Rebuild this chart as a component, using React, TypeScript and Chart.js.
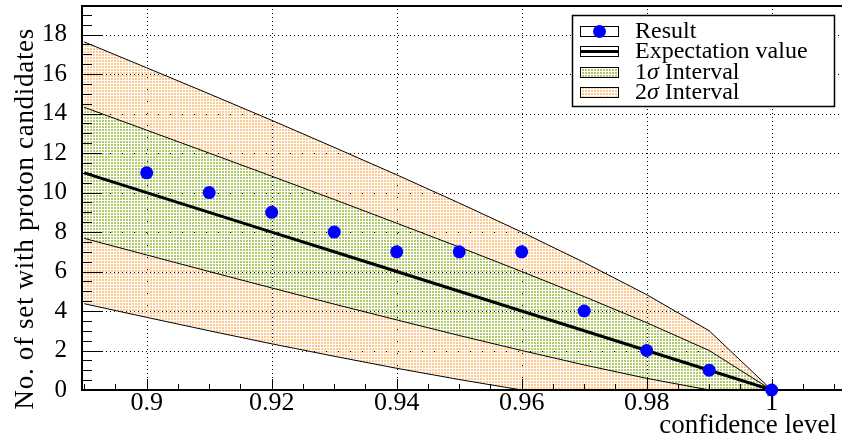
import React, { useEffect, useRef } from "react";
import { Chart, registerables } from "chart.js";

Chart.register(...registerables);

// ---------------- data ----------------
const confidenceLevels = [0.89, 0.9, 0.91, 0.92, 0.93, 0.94, 0.95, 0.96, 0.97, 0.98, 0.99, 1.0];
const expectationValues = [11, 10, 9, 8, 7, 6, 5, 4, 3, 2, 1, 0];
const sigma1Upper = [14.32, 13.16, 12.0, 10.83, 9.65, 8.45, 7.24, 6.0, 4.73, 3.41, 2.0, 0];
const sigma1Lower = [7.68, 6.84, 6.0, 5.17, 4.35, 3.55, 2.76, 2.0, 1.27, 0.59, 0, 0];
const sigma2Upper = [17.63, 16.32, 15.0, 13.66, 12.29, 10.9, 9.47, 8.0, 6.46, 4.83, 3.0, 0];
const sigma2Lower = [4.37, 3.68, 3.0, 2.34, 1.71, 1.1, 0.53, 0, 0, 0, 0, 0];

const resultLevels = [0.9, 0.91, 0.92, 0.93, 0.94, 0.95, 0.96, 0.97, 0.98, 0.99, 1.0];
const resultValues = [11, 10, 9, 8, 7, 7, 7, 4, 2, 1, 0];

const xTickValues = [0.9, 0.92, 0.94, 0.96, 0.98, 1.0];
const xTickLabels = ["0.9", "0.92", "0.94", "0.96", "0.98", "1"];
const yTickValues = [0, 2, 4, 6, 8, 10, 12, 14, 16, 18];
const yTickLabels = ["0", "2", "4", "6", "8", "10", "12", "14", "16", "18"];

const legendLabels = ["Result", "Expectation value", "1σ Interval", "2σ Interval"];
const xTitle = "confidence level";
const yTitle = "No. of set with proton candidates";

// ---------------- styling ----------------
const FONT = "'Liberation Serif', 'DejaVu Serif', serif";
const X_MIN = 0.88965;
const X_MAX = 1.01125;
const Y_MIN = 0;
const Y_MAX = 19.45;

function makePattern(color: string): CanvasPattern | string {
  const c = document.createElement("canvas");
  c.width = 3;
  c.height = 3;
  const g = c.getContext("2d");
  if (!g) return color;
  g.fillStyle = color;
  g.fillRect(0, 0, 2, 2);
  const p = g.createPattern(c, "repeat");
  return p || color;
}

const pts = (xs: number[], ys: number[]) => xs.map((x, i) => ({ x, y: ys[i] }));

const zeroPadding = (scale: any) => {
  scale.paddingTop = 0;
  scale.paddingBottom = 0;
  scale.paddingLeft = 0;
  scale.paddingRight = 0;
};

export default function App() {
  const ref = useRef<HTMLCanvasElement | null>(null);

  useEffect(() => {
    document.body.style.margin = "0";
    const canvas = ref.current;
    if (!canvas) return;

    const orange = makePattern("rgb(255,200,140)");
    const green = makePattern("rgb(178,202,108)");

    const drawSegmentsText = (
      ctx: CanvasRenderingContext2D,
      text: string,
      x: number,
      y: number,
      size: number
    ) => {
      const parts = text.split("σ");
      let cx = x;
      parts.forEach((part, i) => {
        ctx.font = `${size}px ${FONT}`;
        ctx.fillText(part, cx, y);
        cx += ctx.measureText(part).width;
        if (i < parts.length - 1) {
          ctx.font = `italic ${size}px ${FONT}`;
          ctx.fillText("σ", cx, y);
          cx += ctx.measureText("σ").width;
        }
      });
    };

    const rootPlugin = {
      id: "rootStyle",
      beforeDraw(chart: any) {
        const ctx = chart.ctx;
        ctx.save();
        ctx.fillStyle = "#ffffff";
        ctx.fillRect(0, 0, chart.width, chart.height);
        ctx.restore();
      },
      beforeDatasetsDraw(chart: any) {
        const { ctx, chartArea: a, scales } = chart;
        const xs = scales.x;
        const ys = scales.y;
        ctx.save();
        ctx.strokeStyle = "#000";
        ctx.lineWidth = 1;
        ctx.setLineDash([1, 3]);
        xTickValues.forEach((v) => {
          const p = Math.round(xs.getPixelForValue(v)) + 0.5;
          ctx.beginPath();
          ctx.moveTo(p, a.bottom);
          ctx.lineTo(p, a.top);
          ctx.stroke();
        });
        yTickValues.forEach((v) => {
          if (v === Y_MIN) return;
          const p = Math.round(ys.getPixelForValue(v)) + 0.5;
          ctx.beginPath();
          ctx.moveTo(a.left, p);
          ctx.lineTo(a.right, p);
          ctx.stroke();
        });
        ctx.restore();
      },
      afterDatasetDraw(chart: any, args: any) {
        if (args.index !== 4) return;
        const { ctx, chartArea: a, scales } = chart;
        const xs = scales.x;
        const ys = scales.y;
        ctx.save();
        ctx.strokeStyle = "#000";
        ctx.lineWidth = 1;
        ctx.setLineDash([]);
        for (let k = 0; ; k++) {
          const v = 0.89 + k * 0.005;
          if (v > X_MAX) break;
          if (v < X_MIN) continue;
          const major = Math.abs(Math.round(v / 0.02) * 0.02 - v) < 1e-6;
          const len = major ? 11 : 6;
          const p = Math.round(xs.getPixelForValue(v)) + 0.5;
          ctx.beginPath();
          ctx.moveTo(p, a.bottom);
          ctx.lineTo(p, a.bottom - len);
          ctx.stroke();
        }
        for (let k = 0; ; k++) {
          const v = k * 0.5;
          if (v > Y_MAX) break;
          const major = k % 4 === 0;
          const len = major ? 20 : 10;
          const p = Math.round(ys.getPixelForValue(v)) + 0.5;
          ctx.beginPath();
          ctx.moveTo(a.left, p);
          ctx.lineTo(a.left + len, p);
          ctx.stroke();
        }
        ctx.lineWidth = 2;
        ctx.strokeRect(a.left, a.top, a.right - a.left + 4, a.bottom - a.top);
        ctx.restore();
      },
      afterDraw(chart: any) {
        const { ctx } = chart;
        ctx.save();
        ctx.fillStyle = "#000";
        ctx.font = `27px ${FONT}`;
        ctx.textAlign = "right";
        ctx.textBaseline = "alphabetic";
        ctx.fillText(xTitle, 837, 433);
        ctx.save();
        ctx.translate(26, 28);
        ctx.rotate(-Math.PI / 2);
        ctx.textAlign = "right";
        ctx.textBaseline = "middle";
        try {
          (ctx as any).letterSpacing = "0.7px";
        } catch (e) {}
        ctx.fillText(yTitle, 0, 0);
        try {
          (ctx as any).letterSpacing = "0px";
        } catch (e) {}
        ctx.restore();

        // legend
        const bx = 572.5, by = 15.5, bw = 262, bh = 91;
        ctx.fillStyle = "#fff";
        ctx.fillRect(bx, by, bw, bh);
        ctx.strokeStyle = "#000";
        ctx.lineWidth = 1.5;
        ctx.strokeRect(bx, by, bw, bh);
        const rows = [31, 51, 72, 92];
        const sx = 580.5, sw = 38, sh = 10;
        rows.forEach((ry, i) => {
          ctx.lineWidth = 1;
          if (i === 2 || i === 3) {
            ctx.fillStyle = i === 2 ? (green as any) : (orange as any);
            ctx.fillRect(sx, ry - sh / 2, sw, sh);
          }
          ctx.strokeStyle = "#000";
          ctx.strokeRect(sx, ry - sh / 2 + 0.5, sw, sh);
          if (i === 0) {
            ctx.fillStyle = "rgb(0,0,255)";
            ctx.beginPath();
            ctx.arc(sx + sw / 2, ry + 0.5, 6.5, 0, Math.PI * 2);
            ctx.fill();
          }
          if (i === 1) {
            ctx.lineWidth = 3;
            ctx.beginPath();
            ctx.moveTo(sx, ry + 0.5);
            ctx.lineTo(sx + sw, ry + 0.5);
            ctx.stroke();
          }
          ctx.fillStyle = "#000";
          ctx.textAlign = "left";
          ctx.textBaseline = "middle";
          drawSegmentsText(ctx, legendLabels[i], 635, ry + 1, 24);
        });
        ctx.restore();
      },
    };

    const chart = new Chart(canvas, {
      type: "line",
      data: {
        datasets: [
          {
            label: legendLabels[3],
            data: pts(confidenceLevels, sigma2Upper),
            borderColor: "#000",
            borderWidth: 1,
            pointRadius: 0,
            backgroundColor: orange as any,
            fill: { target: 1 } as any,
            order: 6,
          },
          {
            label: "2σ lower",
            data: pts(confidenceLevels, sigma2Lower),
            borderColor: "#000",
            borderWidth: 1,
            pointRadius: 0,
            fill: false,
            order: 5,
          },
          {
            label: legendLabels[2],
            data: pts(confidenceLevels, sigma1Upper),
            borderColor: "#000",
            borderWidth: 1,
            pointRadius: 0,
            backgroundColor: green as any,
            fill: { target: 3 } as any,
            order: 4,
          },
          {
            label: "1σ lower",
            data: pts(confidenceLevels, sigma1Lower),
            borderColor: "#000",
            borderWidth: 1,
            pointRadius: 0,
            fill: false,
            order: 3,
          },
          {
            label: legendLabels[1],
            data: pts(confidenceLevels, expectationValues),
            borderColor: "#000",
            borderWidth: 3,
            pointRadius: 0,
            fill: false,
            order: 2,
          },
          {
            label: legendLabels[0],
            data: pts(resultLevels, resultValues),
            showLine: false,
            pointRadius: 6.5,
            pointHoverRadius: 6.5,
            pointBackgroundColor: "rgb(0,0,255)",
            pointBorderWidth: 0,
            pointBorderColor: "rgb(0,0,255)",
            clip: 12 as any,
            order: 1,
          },
        ],
      },
      options: {
        animation: false,
        responsive: false,
        devicePixelRatio: 1,
        layout: { autoPadding: false, padding: { top: 6, right: 0, left: 0, bottom: 0 } },
        plugins: {
          legend: { display: false },
          tooltip: { enabled: false },
        },
        scales: {
          x: {
            type: "linear",
            min: X_MIN,
            max: X_MAX,
            grid: { display: false, drawTicks: false },
            border: { display: false },
            afterBuildTicks: (scale: any) => {
              scale.ticks = xTickValues.map((v) => ({ value: v }));
            },
            afterFit: (scale: any) => {
              scale.height = 50;
              zeroPadding(scale);
            },
            ticks: {
              autoSkip: false,
              maxRotation: 0,
              padding: -2,
              color: "#000",
              font: { family: FONT, size: 26 },
              callback: (_v: any, i: number) => xTickLabels[i],
            },
          },
          y: {
            type: "linear",
            min: Y_MIN,
            max: Y_MAX,
            grid: { display: false, drawTicks: false },
            border: { display: false },
            afterBuildTicks: (scale: any) => {
              scale.ticks = yTickValues.map((v) => ({ value: v }));
            },
            afterFit: (scale: any) => {
              scale.width = 82;
              zeroPadding(scale);
            },
            ticks: {
              autoSkip: false,
              padding: 15,
              color: "#000",
              font: { family: FONT, size: 25 },
              callback: (_v: any, i: number) => yTickLabels[i],
            },
          },
        },
      },
      plugins: [rootPlugin],
    });

    return () => {
      chart.destroy();
    };
  }, []);

  return (
    <div style={{ width: 842, height: 440 }}>
      <canvas ref={ref} width={842} height={440} />
    </div>
  );
}
